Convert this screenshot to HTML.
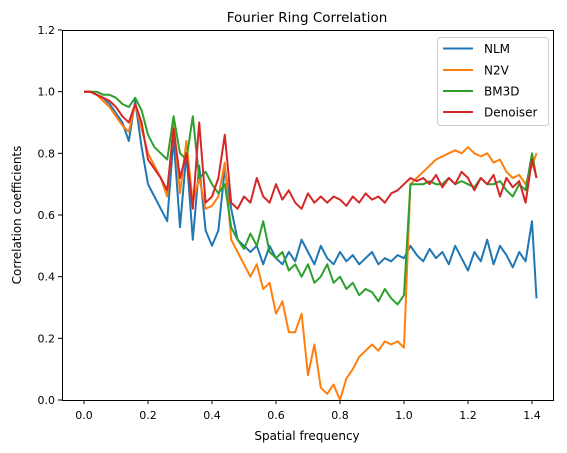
<!DOCTYPE html>
<html><head><meta charset="utf-8"><style>
body{margin:0;background:#fff;}
svg{display:block;font-family:"DejaVu Sans","Liberation Sans",sans-serif;}
</style></head><body>
<svg id="chart" width="567" height="453" viewBox="0 0 567 453" xmlns="http://www.w3.org/2000/svg">
<rect width="567" height="453" fill="#fff"/>
<text x="307" y="22" font-size="13.5" text-anchor="middle" fill="#000">Fourier Ring Correlation</text>
<g id="series"></g>
<g id="axes"></g>
<rect x="62.5" y="30.5" width="491" height="370" fill="none" stroke="#000" stroke-width="1"/>
<text x="307" y="440" font-size="12" text-anchor="middle">Spatial frequency</text>
<text x="21" y="215" font-size="12" text-anchor="middle" transform="rotate(-90 21 215)">Correlation coefficients</text>
<g>
<rect x="437.5" y="37.5" width="111" height="88" rx="3" fill="#fff" fill-opacity="0.8" stroke="#ccc"/>
<g><line x1="443" x2="473" y1="48.5" y2="48.5" stroke="#1f77b4" stroke-width="2"/><text x="484" y="53" font-size="12">NLM</text></g>
<g><line x1="443" x2="473" y1="70" y2="70" stroke="#ff7f0e" stroke-width="2"/><text x="484" y="74.5" font-size="12">N2V</text></g>
<g><line x1="443" x2="473" y1="91" y2="91" stroke="#2ca02c" stroke-width="2"/><text x="484" y="95.5" font-size="12">BM3D</text></g>
<g><line x1="443" x2="473" y1="112" y2="112" stroke="#d62728" stroke-width="2"/><text x="484" y="116.5" font-size="12">Denoiser</text></g>
</g>
</svg>
<script>
const xTicks = [0.0,0.2,0.4,0.6,0.8,1.0,1.2,1.4];
const xTickLabels = ["0.0","0.2","0.4","0.6","0.8","1.0","1.2","1.4"];
const yTicks = [0.0,0.2,0.4,0.6,0.8,1.0,1.2];
const yTickLabels = ["0.0","0.2","0.4","0.6","0.8","1.0","1.2"];
const freqs = [];
for (let i = 0; i <= 70; i++) freqs.push(i * 0.02);
freqs.push(1.414);
const nlm = [1.0,1.0,.99,.98,.96,.93,.90,.84,.97,.82,
.70,.66,.62,.58,.85,.56,.80,.52,.76,.55,
.50,.55,.75,.62,.52,.50,.48,.50,.44,.50,
.46,.44,.48,.45,.52,.48,.44,.50,.46,.44,
.48,.45,.47,.44,.46,.48,.44,.46,.45,.47,
.46,.50,.47,.45,.49,.46,.48,.44,.50,.46,
.42,.48,.45,.52,.44,.50,.47,.43,.48,.45,
.58,.33];
const n2v = [1.0,1.0,.99,.97,.95,.92,.89,.87,.96,.88,
.80,.76,.72,.66,.90,.67,.84,.64,.72,.62,
.63,.66,.77,.52,.48,.44,.40,.44,.36,.38,
.28,.32,.22,.22,.28,.08,.18,.04,.02,.05,
.00,.07,.10,.14,.16,.18,.16,.19,.18,.19,
.17,.70,.72,.74,.76,.78,.79,.80,.81,.80,
.82,.80,.79,.80,.77,.78,.74,.72,.73,.70,
.76,.80];
const bm3d = [1.0,1.0,1.0,.99,.99,.98,.96,.95,.98,.94,
.86,.82,.80,.78,.92,.80,.78,.92,.72,.74,
.70,.67,.70,.56,.52,.49,.54,.50,.58,.48,
.46,.48,.42,.44,.40,.44,.38,.40,.44,.38,
.40,.36,.38,.34,.36,.35,.32,.36,.33,.31,
.34,.70,.70,.70,.71,.70,.70,.72,.70,.71,
.70,.69,.72,.70,.70,.71,.68,.66,.70,.68,
.80,.72];
const denoiser = [1.0,1.0,.99,.98,.97,.95,.92,.90,.96,.90,
.78,.75,.72,.68,.88,.72,.80,.62,.90,.64,
.66,.72,.86,.64,.62,.66,.64,.72,.66,.64,
.70,.65,.68,.64,.62,.67,.64,.66,.64,.66,
.65,.63,.66,.64,.67,.65,.66,.64,.67,.68,
.70,.72,.71,.72,.70,.73,.69,.72,.70,.74,
.72,.68,.72,.70,.73,.66,.72,.69,.71,.64,
.78,.72];
const seriesNames = ["nlm","n2v","bm3d","denoiser"];
const seriesColors = ["#1f77b4","#ff7f0e","#2ca02c","#d62728"];
const seriesData = [nlm, n2v, bm3d, denoiser];

const X0 = 84, XS = 320, Y0 = 400, YS = 308.33;
function xScale(v){ return X0 + v * XS; }
function yScale(v){ return Y0 - v * YS; }
const NS = "http://www.w3.org/2000/svg";
const sg = document.getElementById('series');
seriesData.forEach((arr, k) => {
  const p = document.createElementNS(NS, 'polyline');
  
  
  p.setAttribute('points', arr.map((v, i) => xScale(freqs[i]).toFixed(1) + ',' + yScale(v).toFixed(1)).join(' '));
  p.setAttribute('fill', 'none');
  p.setAttribute('stroke', seriesColors[k]);
  p.setAttribute('stroke-width', '2');
  p.setAttribute('stroke-linejoin', 'round');
  sg.appendChild(p);
});
const ax = document.getElementById('axes');
xTicks.forEach((t, i) => {
  const x = xScale(t);
  const l = document.createElementNS(NS, 'line');
  
  
  l.setAttribute('x1', x); l.setAttribute('x2', x); l.setAttribute('y1', 400); l.setAttribute('y2', 404);
  l.setAttribute('stroke', '#000');
  ax.appendChild(l);
  const tx = document.createElementNS(NS, 'text');
  
  
  tx.setAttribute('x', x); tx.setAttribute('y', 419);
  tx.setAttribute('font-size', '11'); tx.setAttribute('text-anchor', 'middle');
  tx.textContent = xTickLabels[i];
  ax.appendChild(tx);
});
yTicks.forEach((t, i) => {
  const y = yScale(t);
  const l = document.createElementNS(NS, 'line');
  
  
  l.setAttribute('x1', 58); l.setAttribute('x2', 62); l.setAttribute('y1', y); l.setAttribute('y2', y);
  l.setAttribute('stroke', '#000');
  ax.appendChild(l);
  const tx = document.createElementNS(NS, 'text');
  
  
  tx.setAttribute('x', 55); tx.setAttribute('y', y + 4);
  tx.setAttribute('font-size', '11'); tx.setAttribute('text-anchor', 'end');
  tx.textContent = yTickLabels[i];
  ax.appendChild(tx);
});
</script>
</body></html>
